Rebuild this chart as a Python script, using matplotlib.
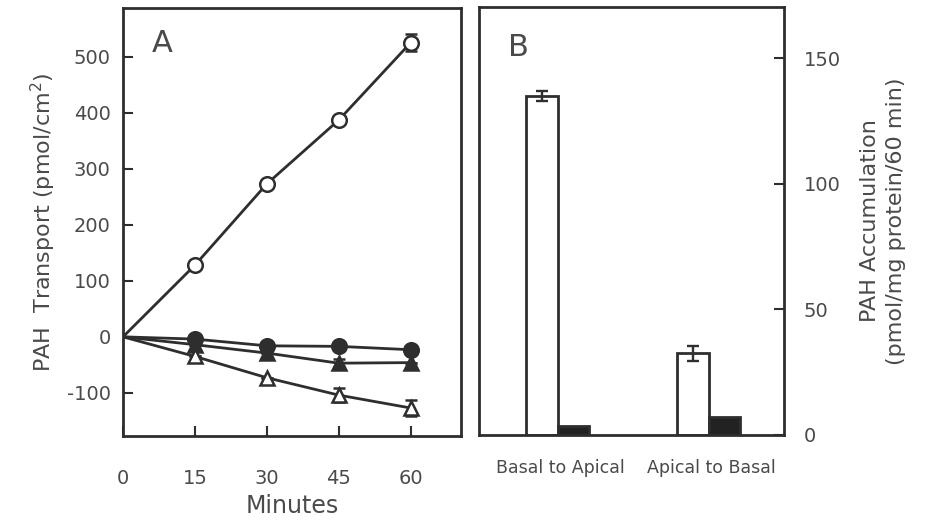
import matplotlib
matplotlib.use("Agg")
import matplotlib.pyplot as plt
import numpy as np

# Panel A data
minutes = [0, 15, 30, 45, 60]
open_circle = [0, 128, 273, 387, 525]
open_circle_err = [0, 0, 0, 0, 15]
filled_circle = [0, -4, -16, -17, -23]
filled_circle_err = [0, 0, 0, 0, 0]
filled_triangle = [0, -14, -29, -47, -46]
filled_triangle_err = [0, 0, 0, 7, 0]
open_triangle = [0, -35, -73, -104, -127]
open_triangle_err = [0, 0, 0, 12, 15]

# Panel B data
categories = ["Basal to Apical", "Apical to Basal"]
open_bars = [135, 32.5]
open_bars_err = [2, 3]
filled_bars = [3.6, 7.2]

INK = "#2e2e2e"
TXT = "#4a4a4a"
plt.rcParams['font.family'] = ['DejaVu Sans']
plt.rcParams['axes.unicode_minus'] = False

fig = plt.figure(figsize=(9.29, 5.22), dpi=100)
axA = fig.add_axes([123/929, (522-436)/522, 338/929, 428/522])
axB = fig.add_axes([479/929, (522-435)/522, 305/929, 428/522])

lw = 2.0
ms = 10.5
kw = dict(color=INK, lw=lw, ms=ms, mew=1.8, capsize=4.5, elinewidth=1.7, capthick=1.7,
          markevery=[1, 2, 3, 4])
axA.errorbar(minutes, open_circle, yerr=open_circle_err, marker='o', mfc='white', mec=INK, **kw)
axA.errorbar(minutes, filled_triangle, yerr=filled_triangle_err, marker='^', mfc=INK, mec=INK, **kw)
axA.errorbar(minutes, filled_circle, yerr=filled_circle_err, marker='o', mfc=INK, mec=INK, **kw)
axA.errorbar(minutes, open_triangle, yerr=open_triangle_err, marker='^', mfc='white', mec=INK, **kw)

axA.set_xlim(0, 70.5)
axA.set_ylim(-177, 587)
axA.set_xticks([0, 15, 30, 45, 60])
axA.set_yticks([-100, 0, 100, 200, 300, 400, 500])
axA.tick_params(axis='x', direction='in', length=7, width=1.5, pad=24, labelsize=14, colors=INK, labelcolor=TXT)
axA.tick_params(axis='y', direction='in', length=7, width=1.5, pad=9, labelsize=14, colors=INK, labelcolor=TXT)
axA.set_xlabel("Minutes", fontsize=17, color=TXT, labelpad=4)
axA.set_ylabel("PAH  Transport (pmol/cm$^2$)", fontsize=16, color=TXT, labelpad=6)
axA.text(0.085, 0.95, "A", transform=axA.transAxes, fontsize=22, color=TXT, va='top', ha='left')
for s in axA.spines.values():
    s.set_linewidth(lw)
    s.set_color(INK)

# Panel B
x = np.arange(len(categories))
w = 0.21
axB.bar(x - w/2, open_bars, width=w, color='white', edgecolor=INK, linewidth=lw,
        yerr=open_bars_err, error_kw=dict(ecolor=INK, elinewidth=1.7, capsize=4.5, capthick=1.7))
axB.bar(x + w/2, filled_bars, width=w, color='#222222', edgecolor=INK, linewidth=lw)
axB.set_xlim(-0.52, 1.50)
axB.set_ylim(0, 170.5)
axB.set_xticks(x + 0.02)
axB.set_xticklabels(categories)
axB.tick_params(axis='x', length=0, pad=17, labelsize=12.5, labelcolor=TXT)
axB.yaxis.tick_right()
axB.yaxis.set_label_position('right')
axB.set_yticks([0, 50, 100, 150])
axB.tick_params(axis='y', direction='in', length=7, width=1.5, pad=14, labelsize=14, colors=INK, labelcolor=TXT,
                left=False, right=True, labelleft=False, labelright=True)
axB.set_ylabel("PAH Accumulation\n(pmol/mg protein/60 min)", fontsize=16, color=TXT, labelpad=14,
               rotation=90, linespacing=1.35)
axB.text(0.095, 0.94, "B", transform=axB.transAxes, fontsize=22, color=TXT, va='top', ha='left')
for s in axB.spines.values():
    s.set_linewidth(lw)
    s.set_color(INK)

fig.savefig("out.png", dpi=100, facecolor='white')
